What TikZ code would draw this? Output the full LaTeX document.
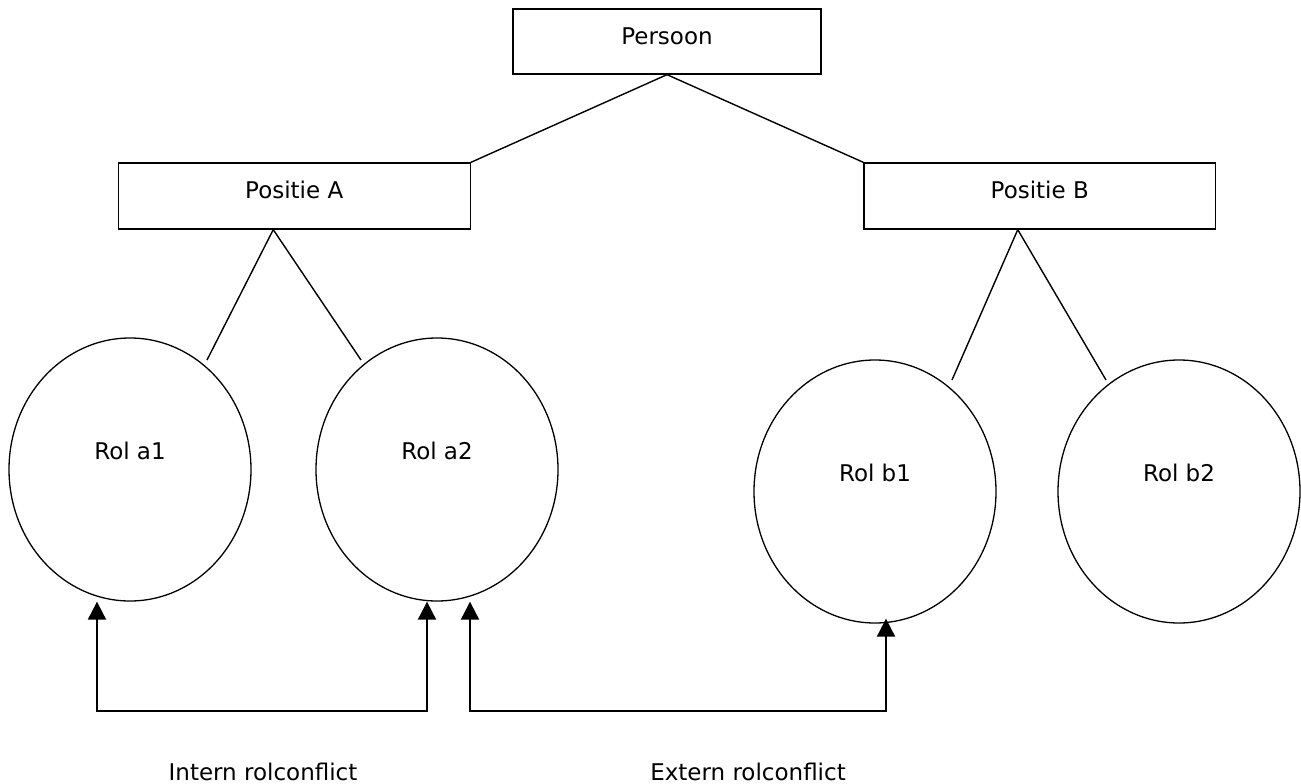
\documentclass[tikz,border=0pt]{standalone}
\usepackage{fontspec}
\setmainfont{DejaVu Sans}
\usetikzlibrary{shapes.geometric,arrows.meta}
\tikzset{
  box/.style={draw, line width=1.3pt, rectangle, inner sep=0pt, text height=16.8pt, text depth=11pt},
  role/.style={draw, line width=1.3pt, ellipse, inner sep=0pt, minimum width=242pt, minimum height=263pt, text height=16.8pt, text depth=36pt},
  link/.style={line width=1.4pt},
  conflict/.style={line width=2pt, {Triangle[width=18pt,length=18pt]}-{Triangle[width=18pt,length=18pt]}},
  caption/.style={anchor=base, inner sep=0pt}
}
\begin{document}
\begin{tikzpicture}[x=1pt, y=-1pt, font=\fontsize{23pt}{27pt}\selectfont]
\useasboundingbox (0,0) rectangle (1301,784);

\node[box, minimum width=308pt, minimum height=65pt] (persoon) at (667,41.5) {Persoon};
\node[box, minimum width=352pt, minimum height=66pt] (posA) at (294.25,196) {Positie A};
\node[box, minimum width=351.5pt, minimum height=66pt] (posB) at (1039.75,196) {Positie B};

\node[role] (a1) at (130,469.5) {Rol a1};
\node[role] (a2) at (437,469.5) {Rol a2};
\node[role] (b1) at (875,491.5) {Rol b1};
\node[role] (b2) at (1179,491.5) {Rol b2};

\node[caption] (intern) at (263,780) {Intern rolconflict};
\node[caption] (extern) at (748,780) {Extern rolconflict};

\coordinate (apexA) at ([xshift=-21pt]posA.south);
\coordinate (apexB) at ([xshift=-22pt]posB.south);
\coordinate (a1top) at (207,360);
\coordinate (a2top) at (361,360);
\coordinate (b1top) at (952,380);
\coordinate (b2top) at (1106,380);

\coordinate (a1tip) at ([xshift=-33pt]a1.south);
\coordinate (a2tip) at ([xshift=-10pt]a2.south);
\coordinate (extA) at ([xshift=33pt]a2.south);
\coordinate (b1tip) at ([xshift=11pt,yshift=5pt]b1.south);
\coordinate (iL) at (97,711);
\coordinate (iR) at (427,711);
\coordinate (eL) at (470,711);
\coordinate (eR) at (886,711);

\draw[link] (persoon.south) -- (posA.north east);
\draw[link] (persoon.south) -- (posB.north west);
\draw[link] (a1top) -- (apexA) -- (a2top);
\draw[link] (b1top) -- (apexB) -- (b2top);

\draw[conflict] (a1tip) -- (iL) -- (iR) -- (a2tip);
\draw[conflict] (extA) -- (eL) -- (eR) -- (b1tip);
\end{tikzpicture}
\end{document}
